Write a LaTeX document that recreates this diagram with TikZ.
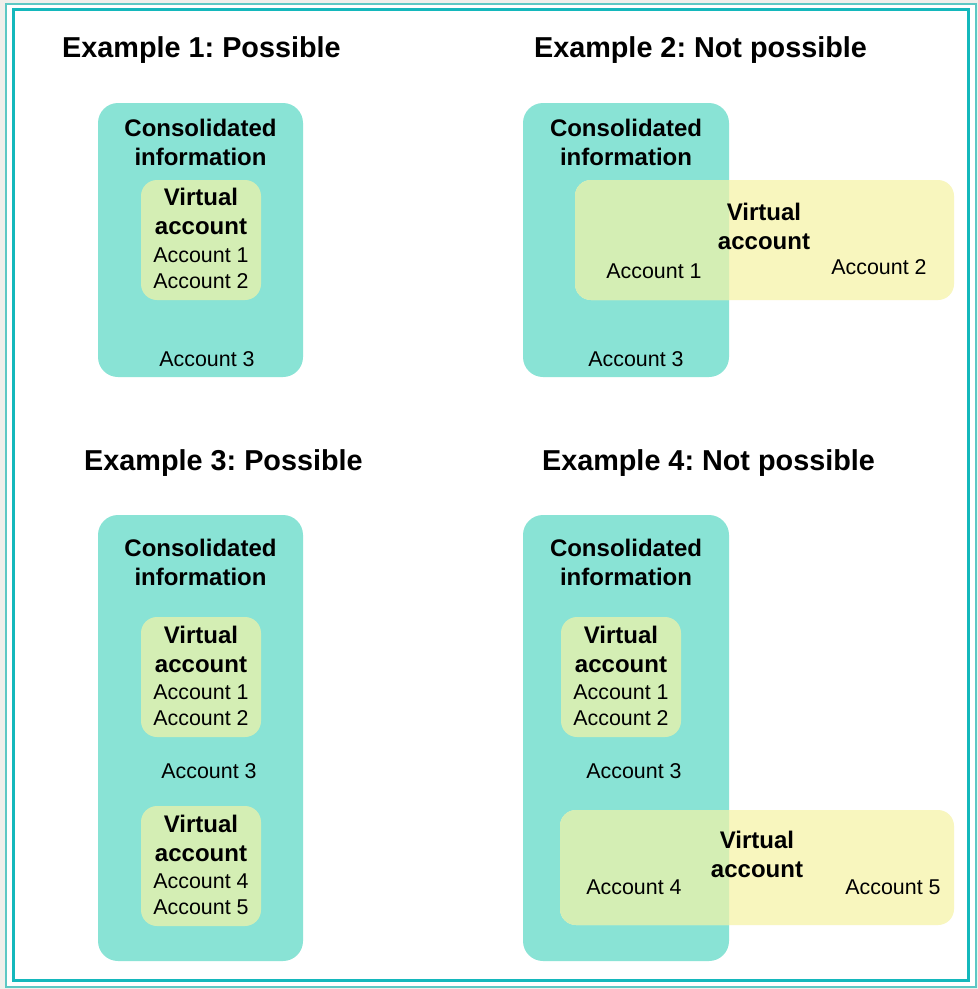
\documentclass[tikz,border=0pt]{standalone}
\usepackage{fontspec}
\setmainfont{Liberation Sans}
\frenchspacing
\definecolor{pagegray}{HTML}{EFEFEB}
\definecolor{framelight}{HTML}{5CC8C4}
\definecolor{framedark}{HTML}{14B8BC}
\definecolor{tealfill}{HTML}{89E3D5}
\definecolor{greenfill}{HTML}{D4EEB4}
\definecolor{yellowfill}{HTML}{F8F6BE}
\tikzset{
  consbox/.style={fill=tealfill, rounded corners=20pt, inner sep=0pt, outer sep=0pt},
  vabox/.style={fill=greenfill, rounded corners=16pt, inner sep=0pt, outer sep=0pt},
  ybox/.style={fill=yellowfill, rounded corners=16pt, inner sep=0pt, outer sep=0pt},
  titletxt/.style={font=\fontsize{28.8}{34}\selectfont\bfseries, inner sep=0pt},
  btxt/.style={font=\fontsize{24}{29}\selectfont\bfseries, align=center, inner sep=0pt},
  rtxt/.style={font=\fontsize{21.4}{26}\selectfont, align=center, inner sep=0pt},
}
\begin{document}
\begin{tikzpicture}[x=1pt,y=-1pt]
\useasboundingbox (0,0) rectangle (978,989);
\fill[pagegray] (0,0) rectangle (978,989);
\draw[framelight, line width=2pt, fill=white] (6,4) rectangle (975.5,987);
\draw[framedark, line width=3pt] (13.5,9.5) rectangle (968.5,980.5);

% Example 1
\node[titletxt] (t1) at (201.5,50.5) {Example 1: Possible};
\node[consbox, minimum width=205pt, minimum height=274pt] (c1) at (200.5,240) {};
\node[btxt] (c1l) at (200.5,142.5) {Consolidated\\information};
\node[vabox, minimum width=120pt, minimum height=120pt] (v1) at (201,240) {};
\node[btxt] (v1l) at (201,211) {Virtual\\account};
\node[rtxt] (a12) at (201,268) {Account 1\\Account 2};
\node[rtxt] (a13) at (207,359) {Account 3};

% Example 2
\node[titletxt] (t2) at (700.5,50.5) {Example 2: Not possible};
\node[consbox, minimum width=206pt, minimum height=274pt] (c2) at (626,240) {};
\node[ybox, minimum width=379pt, minimum height=120pt] (y2) at (764.5,240) {};
\begin{scope}
  \clip (c2.north west) rectangle (c2.south east);
  \fill[greenfill, rounded corners=16pt] (y2.north west) rectangle (y2.south east);
\end{scope}
\node[btxt] (c2l) at (626,142.5) {Consolidated\\information};
\node[btxt] (v2l) at (764,226.5) {Virtual\\account};
\node[rtxt] (a21) at (654,271) {Account 1};
\node[rtxt] (a22) at (879,267) {Account 2};
\node[rtxt] (a23) at (636,359) {Account 3};

% Example 3
\node[titletxt] (t3) at (223.5,463.5) {Example 3: Possible};
\node[consbox, minimum width=205pt, minimum height=446pt] (c3) at (200.5,738) {};
\node[btxt] (c3l) at (200.5,562.5) {Consolidated\\information};
\node[vabox, minimum width=120pt, minimum height=120pt] (v3a) at (201,677) {};
\node[btxt] (v3al) at (201,649.5) {Virtual\\account};
\node[rtxt] (a312) at (201,705) {Account 1\\Account 2};
\node[rtxt] (a33) at (209,771) {Account 3};
\node[vabox, minimum width=120pt, minimum height=120pt] (v3b) at (201,866) {};
\node[btxt] (v3bl) at (201,838.5) {Virtual\\account};
\node[rtxt] (a345) at (201,894) {Account 4\\Account 5};

% Example 4
\node[titletxt] (t4) at (708.5,463.5) {Example 4: Not possible};
\node[consbox, minimum width=206pt, minimum height=446pt] (c4) at (626,738) {};
\node[btxt] (c4l) at (626,562.5) {Consolidated\\information};
\node[vabox, minimum width=120pt, minimum height=120pt] (v4) at (621,677) {};
\node[btxt] (v4l) at (621,649.5) {Virtual\\account};
\node[rtxt] (a412) at (621,705) {Account 1\\Account 2};
\node[rtxt] (a43) at (634,771) {Account 3};
\node[ybox, minimum width=394pt, minimum height=115pt] (y4) at (757,867.5) {};
\begin{scope}
  \clip (c4.north west) rectangle (c4.south east);
  \fill[greenfill, rounded corners=16pt] (y4.north west) rectangle (y4.south east);
\end{scope}
\node[btxt] (v4l2) at (757,854.5) {Virtual\\account};
\node[rtxt] (a44) at (634,887) {Account 4};
\node[rtxt] (a45) at (893,887) {Account 5};
\end{tikzpicture}
\end{document}
